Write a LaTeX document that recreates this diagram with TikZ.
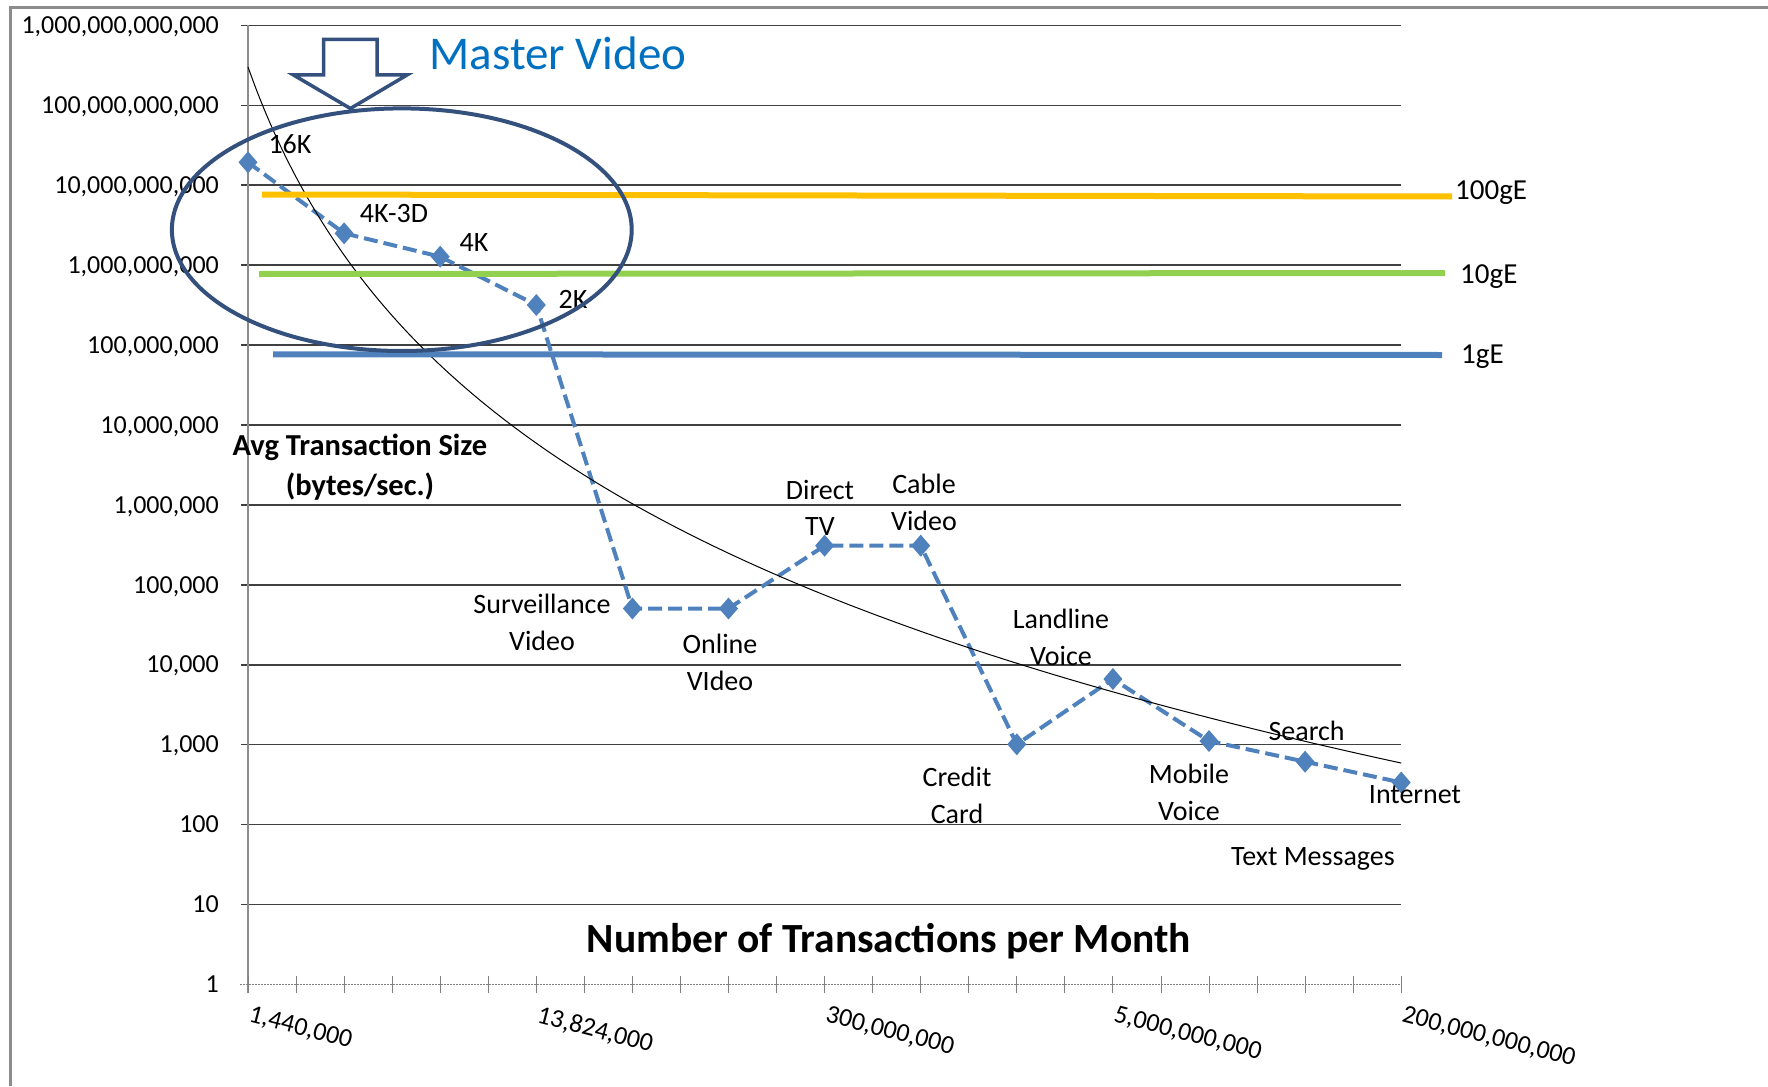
\documentclass[tikz,border=0pt]{standalone}
\usepackage{fontspec}
\setmainfont{Carlito}
\usetikzlibrary{shapes.geometric}
\pgfdeclarelayer{back}
\pgfsetlayers{back,main}

\definecolor{series}{HTML}{4F81BD}
\definecolor{gbeOrange}{HTML}{FFC000}
\definecolor{gbeGreen}{HTML}{92D050}
\definecolor{gbeBlue}{HTML}{4F81BD}
\definecolor{calloutBlue}{RGB}{52,80,125}
\definecolor{titleBlue}{HTML}{0070C0}
\definecolor{frameGray}{HTML}{8C8C8C}
\definecolor{gridDark}{HTML}{404040}

\tikzset{
  ylab/.style={anchor=base east, inner sep=0pt, font=\fontsize{26}{31}\selectfont},
  xlab/.style={anchor=north west, inner sep=0pt, rotate=-14.5, font=\fontsize{26}{31}\selectfont},
  dlab/.style={anchor=base, inner sep=0pt, align=center, font=\fontsize{28}{36.5}\selectfont},
  bandlab/.style={anchor=base west, inner sep=0pt, font=\fontsize{29}{35}\selectfont},
  datapt/.style={diamond, fill=series, draw=none, inner sep=0pt, outer sep=0pt,
                 minimum width=19pt, minimum height=22pt},
  gridline/.style={draw=gridDark, line width=1.6pt},
  dataline/.style={draw=series, line width=4pt, dash pattern=on 14pt off 6pt},
  trend/.style={draw=black, line width=1pt},
  band/.style={line width=6pt},
  callout/.style={draw=calloutBlue, line width=4pt},
}

\begin{document}
\begin{tikzpicture}[x=1pt, y=-1pt]
\useasboundingbox (0,0) rectangle (1768,1086);

% outer frame (left and top edges)
\draw[frameGray, line width=3pt] (10,1086) -- (10,7.5) -- (1768,7.5);

% horizontal gridlines for 10^1 ... 10^12
\begin{pgfonlayer}{back}
\foreach \k in {1,...,12}
  \draw[gridline] (241,{984.3-79.9*\k}) -- (1401,{984.3-79.9*\k});
% vertical axis
\draw[frameGray, line width=1.5pt] (248,25) -- (248,993);
% horizontal axis with ticks
\draw[gray, line width=0.9pt, dash pattern=on 2pt off 1pt] (240,984.3) -- (1401,984.3);
\foreach \j in {0,...,24}
  \draw[gray, line width=0.9pt] ({248+48.05*\j},976) -- ({248+48.05*\j},993);
\end{pgfonlayer}

% y-axis labels
\foreach \k/\t in {0/{1},1/{10},2/{100},3/{1,000},4/{10,000},5/{100,000},
                   6/{1,000,000},7/{10,000,000},8/{100,000,000},
                   9/{1,000,000,000},10/{10,000,000,000},
                   11/{100,000,000,000},12/{1,000,000,000,000}}
  \node[ylab] (yl\k) at (219,{984.3-79.9*\k+8.2}) {\t};

% x-axis labels
\foreach \i/\t in {0/{1,440,000},3/{13,824,000},6/{300,000,000},
                   9/{5,000,000,000},12/{200,000,000,000}}
  \node[xlab] (xl\i) at ({252+96.1*\i},1005) {\t};

% data points
\node[datapt] (p0)  at (248,162.3) {};
\node[datapt] (p1)  at (344.1,233.3) {};
\node[datapt] (p2)  at (440.2,256.7) {};
\node[datapt] (p3)  at (536.3,305) {};
\node[datapt] (p4)  at (632.4,608.5) {};
\node[datapt] (p5)  at (728.5,608.5) {};
\node[datapt] (p6)  at (824.6,545.7) {};
\node[datapt] (p7)  at (920.7,545.7) {};
\node[datapt] (p8)  at (1016.8,744.3) {};
\node[datapt] (p9)  at (1112.9,679) {};
\node[datapt] (p10) at (1209,741) {};
\node[datapt] (p11) at (1305.1,761.7) {};
\node[datapt] (p12) at (1401.2,782.5) {};

\begin{pgfonlayer}{back}
\draw[dataline] (p0.center) -- (p1.center) -- (p2.center) -- (p3.center)
  -- (p4.center) -- (p5.center) -- (p6.center) -- (p7.center) -- (p8.center)
  -- (p9.center) -- (p10.center) -- (p11.center) -- (p12.center);
% power-law trendline
\draw[trend] plot[domain=1:13, samples=150, smooth]
  ({248+96.1*(\x-1)},{984.3-79.9*(11.48-7.82*log10(\x))});
\end{pgfonlayer}

% data labels (base anchor sits on the last line)
\node[dlab] (l16k)  at (290,153.3) {16K};
\node[dlab] (l4k3d) at (394,222.7) {4K-3D};
\node[dlab] (l4k)   at (474,251.7) {4K};
\node[dlab] (l2k)   at (573,308.3) {2K};
\node[dlab] (lsurv) at (542,650) {Surveillance\\Video};
\node[dlab] (lonl)  at (720,690) {Online\\VIdeo};
\node[dlab] (ldir)  at (820,535.5) {Direct\\TV};
\node[dlab] (lcab)  at (924,530) {Cable\\Video};
\node[dlab] (lland) at (1061,665) {Landline\\Voice};
\node[dlab] (lcred) at (957,823.3) {Credit\\Card};
\node[dlab] (lmob)  at (1189,820) {Mobile\\Voice};
\node[dlab] (lsea)  at (1306.6,740) {Search};
\node[dlab] (lint)  at (1415,803.3) {Internet};
\node[dlab] (ltxt)  at (1313,865) {Text Messages};

% axis titles
\node[anchor=base, inner sep=0pt, align=center,
      font=\fontsize{30.5}{40}\selectfont\bfseries] (ytitle) at (360,495)
  {Avg Transaction Size\\(bytes/sec.)};
\node[anchor=base, inner sep=0pt, font=\fontsize{41.5}{48}\selectfont\bfseries]
  (xtitle) at (889,952) {Number of Transactions per Month};

% link-speed reference lines
\draw[band, gbeOrange] (262,194.5) -- (1452,196.5);
\draw[band, gbeGreen]  (259,274) -- (1445,273);
\draw[band, gbeBlue]   (273,354.3) -- (1442,355);
\node[bandlab] (b100) at (1455,200) {100gE};
\node[bandlab] (b10)  at (1460,283.3) {10gE};
\node[bandlab] (b1)   at (1461,363.3) {1gE};

% callout: ellipse and down arrow
\draw[callout] (401.8,229.7) ellipse [x radius=229.9pt, y radius=121.3pt];
\draw[callout, line width=3.5pt, fill=white, line join=miter]
  (323.7,39.3) -- (377.2,39.3) -- (377.2,75) -- (407,75) -- (350.4,108.5)
  -- (293.5,75) -- (323.7,75) -- cycle;
\node[anchor=base, inner sep=0pt, text=titleBlue, font=\fontsize{47}{56}\selectfont]
  (master) at (558,70) {Master Video};
\end{tikzpicture}
\end{document}
